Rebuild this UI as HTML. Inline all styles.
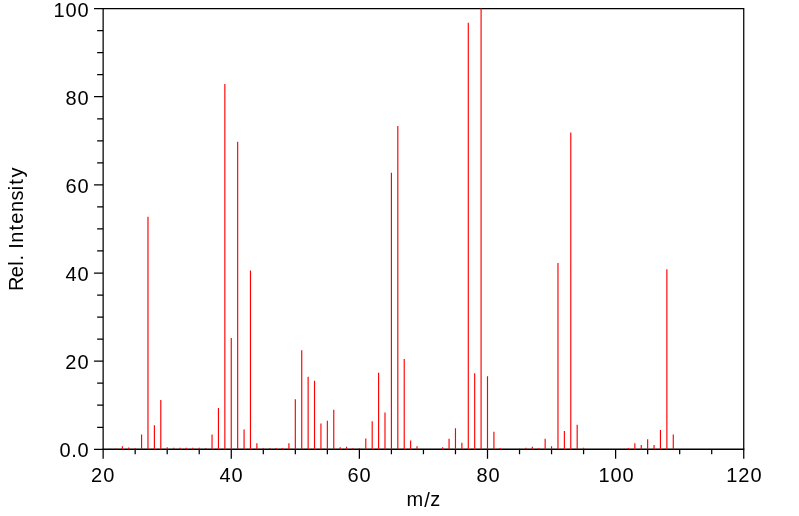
<!DOCTYPE html>
<html><head><meta charset="utf-8"><style>
html,body{margin:0;padding:0;background:#fff;width:799px;height:516px;overflow:hidden}
svg{display:block;will-change:transform}
text{font-family:"Liberation Sans",sans-serif;font-size:20px;fill:#000}
</style></head><body>
<svg width="799" height="516" viewBox="0 0 799 516">
<path d="M102.54 8.60H744.34M743.74 8.60V449.30M103.14 8.60V449.30" stroke="#000" stroke-width="1.25" fill="none"/>
<path d="M102.54 449.30H744.34" stroke="#000" stroke-width="1.4" fill="none"/>
<path d="M94.04 449.30H103.14M97.14 427.26H103.14M97.14 405.23H103.14M97.14 383.19H103.14M94.04 361.16H103.14M97.14 339.12H103.14M97.14 317.09H103.14M97.14 295.06H103.14M94.04 273.02H103.14M97.14 250.99H103.14M97.14 228.95H103.14M97.14 206.92H103.14M94.04 184.88H103.14M97.14 162.85H103.14M97.14 140.81H103.14M97.14 118.78H103.14M94.04 96.74H103.14M97.14 74.70H103.14M97.14 52.67H103.14M97.14 30.63H103.14M94.04 8.60H103.14M103.14 449.30V458.80M135.17 449.30V454.30M167.20 449.30V454.30M199.23 449.30V454.30M231.26 449.30V458.80M263.29 449.30V454.30M295.32 449.30V454.30M327.35 449.30V454.30M359.38 449.30V458.80M391.41 449.30V454.30M423.44 449.30V454.30M455.47 449.30V454.30M487.50 449.30V458.80M519.53 449.30V454.30M551.56 449.30V454.30M583.59 449.30V454.30M615.62 449.30V458.80M647.65 449.30V454.30M679.68 449.30V454.30M711.71 449.30V454.30M743.74 449.30V458.80" stroke="#000" stroke-width="1.25" fill="none"/>
<path d="M109.55 449.30V448.56M115.95 449.30V448.56M122.36 449.30V446.36M128.76 449.30V447.46M135.17 449.30V447.90M141.58 449.30V434.46M147.98 449.30V216.75M154.39 449.30V425.20M160.79 449.30V400.08M167.20 449.30V447.24M173.61 449.30V447.68M180.01 449.30V447.68M186.42 449.30V447.68M192.82 449.30V447.68M199.23 449.30V447.68M205.64 449.30V448.12M212.04 449.30V434.46M218.45 449.30V408.01M224.85 449.30V84.10M231.26 449.30V337.94M237.67 449.30V141.83M244.07 449.30V429.61M250.48 449.30V270.52M256.88 449.30V443.27M263.29 449.30V448.12M269.70 449.30V448.12M276.10 449.30V448.12M282.51 449.30V448.12M288.91 449.30V443.27M295.32 449.30V399.20M301.73 449.30V350.28M308.13 449.30V376.73M314.54 449.30V380.69M320.94 449.30V423.44M327.35 449.30V420.80M333.76 449.30V409.78M340.16 449.30V447.24M346.57 449.30V446.80M352.97 449.30V448.12M359.38 449.30V448.12M365.79 449.30V438.42M372.19 449.30V421.24M378.60 449.30V372.76M385.00 449.30V412.42M391.41 449.30V172.68M397.82 449.30V125.97M404.22 449.30V359.10M410.63 449.30V440.41M417.03 449.30V446.36M442.66 449.30V447.24M449.06 449.30V438.86M455.47 449.30V428.29M461.88 449.30V442.83M468.28 449.30V22.84M474.69 449.30V373.20M481.09 449.30V8.30M487.50 449.30V376.28M493.91 449.30V431.81M500.31 449.30V448.12M519.53 449.30V448.56M525.94 449.30V447.68M532.34 449.30V446.80M538.75 449.30V448.34M545.15 449.30V438.86M551.56 449.30V446.14M557.97 449.30V263.02M564.37 449.30V430.93M570.78 449.30V132.58M577.18 449.30V424.76M583.59 449.30V447.68M628.43 449.30V448.12M634.84 449.30V443.27M641.24 449.30V445.03M647.65 449.30V439.30M654.06 449.30V445.03M660.46 449.30V430.05M666.87 449.30V269.19M673.27 449.30V434.46" stroke="#ff0000" stroke-width="1.15" fill="none"/>
<text x="59.56" y="456.60">0</text><text x="71.31" y="456.60">.</text><text x="77.50" y="456.60">0</text>
<text x="65.29" y="368.60">2</text><text x="77.50" y="368.60">0</text>
<text x="65.54" y="280.60">4</text><text x="77.50" y="280.60">0</text>
<text x="65.54" y="192.60">6</text><text x="77.50" y="192.60">0</text>
<text x="65.54" y="104.60">8</text><text x="77.50" y="104.60">0</text>
<text x="53.48" y="16.60">1</text><text x="65.54" y="16.60">0</text><text x="77.50" y="16.60">0</text>
<text x="91.09" y="481.65">2</text><text x="103.30" y="481.65">0</text>
<text x="219.52" y="481.65">4</text><text x="231.48" y="481.65">0</text>
<text x="347.42" y="481.65">6</text><text x="359.38" y="481.65">0</text>
<text x="476.44" y="481.65">8</text><text x="488.40" y="481.65">0</text>
<text x="598.46" y="481.65">1</text><text x="610.53" y="481.65">0</text><text x="622.49" y="481.65">0</text>
<text x="726.36" y="481.65">1</text><text x="738.18" y="481.65">2</text><text x="750.39" y="481.65">0</text>
<text x="406.42" y="505.60">m</text><text x="424.24" y="507.20">/</text><text x="430.22" y="505.60">z</text>
<g transform="translate(22.6 228.20) rotate(-90)"><text x="-62.85" y="0.00">R</text><text x="-49.14" y="0.00">e</text><text x="-37.44" y="0.00">l</text><text x="-32.41" y="0.00">.</text><text x="-20.66" y="0.00">I</text><text x="-14.67" y="0.00">n</text><text x="-2.34" y="0.00">t</text><text x="4.44" y="0.00">e</text><text x="16.18" y="0.00">n</text><text x="27.69" y="0.00">s</text><text x="37.85" y="0.00">i</text><text x="43.53" y="0.00">t</text><text x="50.61" y="0.00">y</text></g>
</svg>
</body></html>
